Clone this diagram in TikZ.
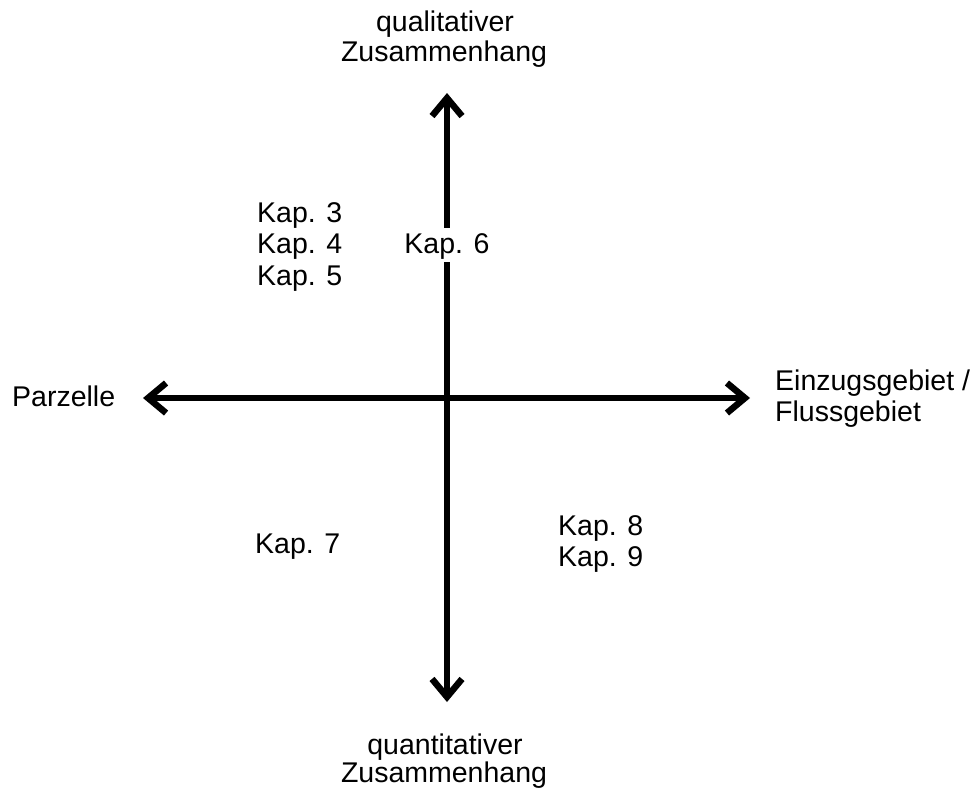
\documentclass[tikz,border=0pt]{standalone}
\usepackage{fontspec}
\setmainfont{Liberation Sans}
\usetikzlibrary{arrows.meta}
\begin{document}
\begin{tikzpicture}[x=1pt,y=-1pt,
  lbl/.style={inner sep=0pt,font=\fontsize{28.5}{31.5}\selectfont},
  axis/.style={line width=6.5pt,black},
  tipB/.style={{Straight Barb[length=18pt,width=30pt]}-{Straight Barb[length=18pt,width=30pt]}}]
\useasboundingbox (0,0) rectangle (976,787);
\coordinate (top) at (447,93);
\coordinate (bot) at (447,702);
\coordinate (lft) at (143,398);
\coordinate (rgt) at (750,398);
\draw[axis,tipB] (bot) -- (top);
\draw[axis,tipB] (lft) -- (rgt);
\node[lbl,anchor=base] (ql1) at (445,31) {qualitativer};
\node[lbl,anchor=base] (ql2) at (444,61) {Zusammenhang};
\node[lbl,anchor=base] (qn1) at (445,754) {quantitativer};
\node[lbl,anchor=base] (qn2) at (444,782) {Zusammenhang};
\node[lbl,anchor=base west] (parz) at (12,406) {Parzelle};
\node[lbl,anchor=base west] (ein1) at (775,390) {Einzugsgebiet /};
\node[lbl,anchor=base west] (ein2) at (775,421) {Flussgebiet};
\node[lbl,anchor=base west] (k3) at (257,222) {Kap. 3};
\node[lbl,anchor=base west] (k4) at (257,253) {Kap. 4};
\node[lbl,anchor=base west] (k5) at (257,285) {Kap. 5};
\node[lbl,anchor=base,fill=white,text height=22pt,text depth=6pt,inner ysep=3pt,inner xsep=2pt] (k6) at (447,253) {Kap. 6};
\node[lbl,anchor=base west] (k7) at (255,553) {Kap. 7};
\node[lbl,anchor=base west] (k8) at (558,535) {Kap. 8};
\node[lbl,anchor=base west] (k9) at (558,566) {Kap. 9};
\end{tikzpicture}
\end{document}
